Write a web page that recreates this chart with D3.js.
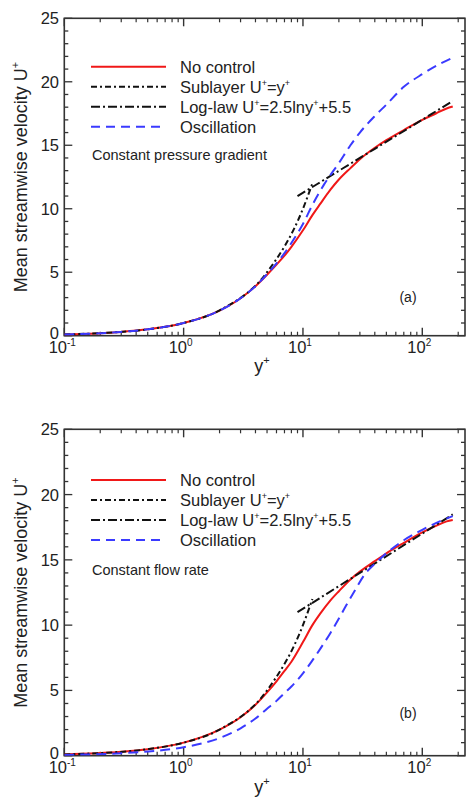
<!DOCTYPE html>
<html><head><meta charset="utf-8">
<script src="https://cdn.jsdelivr.net/npm/d3@7"></script>
<style>body{margin:0;background:#fff}svg{display:block}text{font-family:"Liberation Sans",Arial,sans-serif;fill:#222}</style>
</head><body>
<svg id="c" width="469" height="799"></svg>
<script>
// ---------- data ----------
const xTickValues = [0.1, 1, 10, 100];
const xTickExponents = ["-1", "0", "1", "2"];
const yTickValues = [0, 5, 10, 15, 20, 25];
const legendLabels = ["No control", "Sublayer", "Log-law", "Oscillation"];

// panel (a): constant pressure gradient
const noControlA = [[0.1,0.1],[0.3,0.3],[0.5,0.5],[1,1.0],[2,1.98],[3,2.95],[4,3.9],[5,4.8],[6,5.6],[7,6.3],[8,7.0],[10,8.3],[12,9.5],[14,10.4],[17,11.5],[20,12.3],[25,13.2],[30,13.9],[40,14.8],[50,15.4],[70,16.2],[100,17.0],[130,17.5],[160,17.9],[180,18.05]];
const oscillationA = [[0.1,0.1],[0.3,0.3],[0.5,0.5],[1,1.0],[2,1.98],[3,2.95],[4,3.9],[5,4.85],[6,5.7],[7,6.5],[8,7.3],[10,8.8],[12,10.3],[15,11.9],[20,13.6],[25,15.0],[30,16.0],[40,17.3],[50,18.2],[70,19.6],[100,20.6],[140,21.4],[180,21.9]];
// panel (b): constant flow rate
const noControlB = [[0.1,0.1],[0.3,0.3],[0.5,0.5],[1,1.0],[2,2.0],[3,2.95],[4,3.9],[5,4.85],[6,5.7],[7,6.5],[8,7.2],[10,8.7],[12,10.0],[14,10.9],[17,11.9],[20,12.6],[25,13.5],[30,14.1],[40,14.9],[50,15.5],[70,16.3],[100,17.1],[130,17.6],[160,17.95],[180,18.05]];
const oscillationB = [[0.1,0.06],[0.3,0.19],[0.5,0.32],[1,0.65],[2,1.35],[3,2.1],[4,2.85],[5,3.6],[6,4.2],[7,4.8],[8,5.3],[10,6.3],[12,7.3],[14,8.2],[17,9.4],[20,10.5],[23,11.5],[27,12.6],[33,13.9],[40,14.7],[50,15.5],[70,16.5],[100,17.3],[140,17.95],[180,18.35]];
// reference laws
const sublayerYplus = [0.1, 0.2, 0.5, 1, 2, 5, 10, 12];
const logLawYplus = [9, 12, 20, 40, 80, 120, 180];

const svg = d3.select("#c");

function drawPanel(p) {
  const x = d3.scaleLog().domain([0.1, 228]).range([64.3, 465]);
  const y = d3.scaleLinear().domain([0, 25]).range([p.bottom, p.top]);
  const g = svg.append("g");
  const L = 64.3, R = 465;

  const xMinor = [];
  [0.1, 1, 10, 100].forEach(d => { for (let k = 2; k <= 9; k++) { const v = d * k; if (v <= 228) xMinor.push(v); } });
  const tickCol = "#333";
  xMinor.forEach(v => {
    g.append("line").attr("x1", x(v)).attr("x2", x(v)).attr("y1", p.bottom).attr("y2", p.bottom - 4).attr("stroke", tickCol).attr("stroke-width", 1.2);
    g.append("line").attr("x1", x(v)).attr("x2", x(v)).attr("y1", p.top).attr("y2", p.top + 4).attr("stroke", tickCol).attr("stroke-width", 1.2);
  });
  xTickValues.forEach(v => {
    g.append("line").attr("x1", x(v)).attr("x2", x(v)).attr("y1", p.bottom).attr("y2", p.bottom - 8).attr("stroke", tickCol).attr("stroke-width", 1.4);
    g.append("line").attr("x1", x(v)).attr("x2", x(v)).attr("y1", p.top).attr("y2", p.top + 8).attr("stroke", tickCol).attr("stroke-width", 1.4);
  });
  d3.range(0, 26).forEach(v => {
    const major = v % 5 === 0, len = major ? 8 : 4;
    g.append("line").attr("x1", L).attr("x2", L + len).attr("y1", y(v)).attr("y2", y(v)).attr("stroke", tickCol).attr("stroke-width", 1.3);
    g.append("line").attr("x1", R).attr("x2", R - len).attr("y1", y(v)).attr("y2", y(v)).attr("stroke", tickCol).attr("stroke-width", 1.3);
  });
  g.append("rect").attr("x", L).attr("y", p.top).attr("width", R - L).attr("height", p.bottom - p.top)
    .attr("fill", "none").attr("stroke", "#333").attr("stroke-width", 1.6);

  yTickValues.forEach(v => {
    g.append("text").attr("x", 59).attr("y", y(v) + (v === 0 ? 3.5 : 6)).attr("text-anchor", "end").attr("font-size", 16.5).text(v);
  });
  xTickValues.forEach((v, i) => {
    const t = g.append("text").attr("x", x(v) - 3 + (i === 0 ? 1 : 0)).attr("y", p.bottom + 17.5).attr("text-anchor", "middle").attr("font-size", 16.5);
    t.append("tspan").text("10");
    t.append("tspan").attr("dy", -7).attr("font-size", 10).text(xTickExponents[i]);
  });

  const yt = g.append("text").attr("transform", `translate(27,${(p.top + p.bottom) / 2}) rotate(-90)`)
    .attr("text-anchor", "middle").attr("font-size", 18);
  yt.append("tspan").text("Mean streamwise velocity U");
  yt.append("tspan").attr("dy", -8).attr("font-size", 11).text("+");
  const xt = g.append("text").attr("x", 262).attr("y", p.xTitleY).attr("text-anchor", "middle").attr("font-size", 18);
  xt.append("tspan").text("y");
  xt.append("tspan").attr("dy", -8).attr("font-size", 11).text("+");

  const cid = "clip" + p.id;
  svg.append("clipPath").attr("id", cid).append("rect").attr("x", L).attr("y", p.top).attr("width", R - L).attr("height", p.bottom - p.top);
  const pg = svg.append("g").attr("clip-path", `url(#${cid})`);
  const line = d3.line().x(d => x(d[0])).y(d => y(d[1])).curve(d3.curveMonotoneX);

  const sub = sublayerYplus.map(v => [v, v]);
  const logl = logLawYplus.map(v => [v, 2.5 * Math.log(v) + 5.5]);

  pg.append("path").attr("d", line(p.noControl)).attr("fill", "none").attr("stroke", "#f01818").attr("stroke-width", 2);
  pg.append("path").attr("d", line(sub)).attr("fill", "none").attr("stroke", "#111").attr("stroke-width", 2).attr("stroke-dasharray", "6,3,2,3");
  pg.append("path").attr("d", line(logl)).attr("fill", "none").attr("stroke", "#111").attr("stroke-width", 2).attr("stroke-dasharray", "9,3,2,3");
  pg.append("path").attr("d", line(p.oscillation)).attr("fill", "none").attr("stroke", "#3a3aff").attr("stroke-width", 2).attr("stroke-dasharray", "10,6");

  const styles = [
    { c: "#f01818", d: null },
    { c: "#111", d: "6,3,2,3" },
    { c: "#111", d: "9,3,2,3" },
    { c: "#3a3aff", d: "9,6" }
  ];
  legendLabels.forEach((lab, i) => {
    const cy = p.legendY + i * 20;
    const ln = g.append("line").attr("x1", 91).attr("x2", 166).attr("y1", cy).attr("y2", cy)
      .attr("stroke", styles[i].c).attr("stroke-width", 2);
    if (styles[i].d) ln.attr("stroke-dasharray", styles[i].d);
    const t = g.append("text").attr("x", 180).attr("y", cy + 6).attr("font-size", 16.5);
    if (i === 0 || i === 3) t.text(lab);
    else if (i === 1) {
      t.append("tspan").text("Sublayer U");
      t.append("tspan").attr("dy", -7).attr("font-size", 9).text("+");
      t.append("tspan").attr("dy", 7).text("=y");
      t.append("tspan").attr("dy", -7).attr("font-size", 9).text("+");
    } else {
      t.append("tspan").text("Log-law U");
      t.append("tspan").attr("dy", -7).attr("font-size", 9).text("+");
      t.append("tspan").attr("dy", 7).text("=2.5lny");
      t.append("tspan").attr("dy", -7).attr("font-size", 9).text("+");
      t.append("tspan").attr("dy", 7).text("+5.5");
    }
  });
  g.append("text").attr("x", 92).attr("y", p.noteY).attr("font-size", 14.5).text(p.note);
  g.append("text").attr("x", 408).attr("y", p.labelY).attr("text-anchor", "middle").attr("font-size", 14).text(p.label);
}

drawPanel({ id: "a", top: 18.3, bottom: 335.7, noControl: noControlA, oscillation: oscillationA,
  legendY: 66.7, note: "Constant pressure gradient", noteY: 160, label: "(a)", labelY: 301.5, xTitleY: 372 });
drawPanel({ id: "b", top: 429.3, bottom: 755.7, noControl: noControlB, oscillation: oscillationB,
  legendY: 480, note: "Constant flow rate", noteY: 575, label: "(b)", labelY: 718, xTitleY: 793 });
</script>
</body></html>
